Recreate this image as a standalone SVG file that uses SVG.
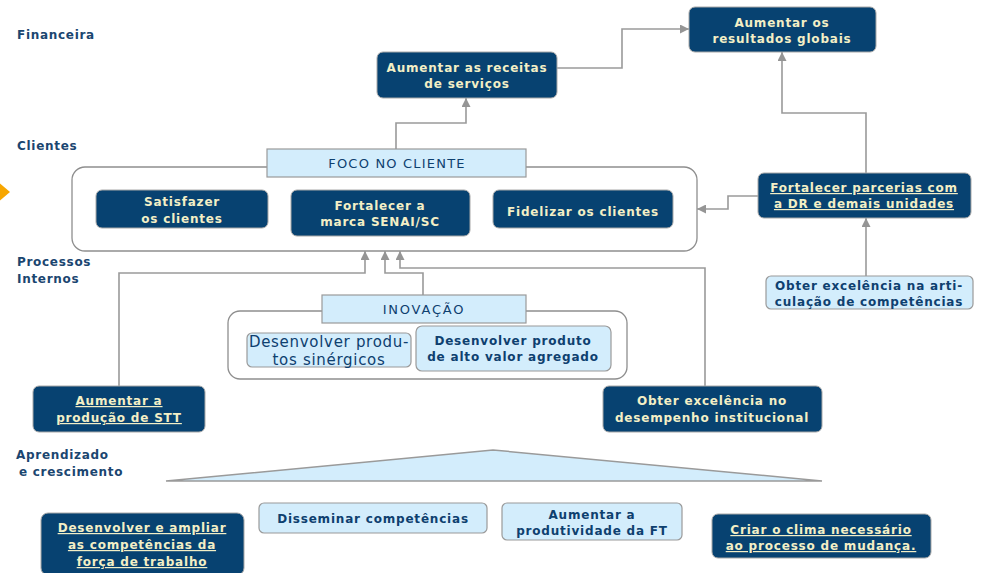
<svg xmlns="http://www.w3.org/2000/svg" width="986" height="573" viewBox="0 0 986 573">
<defs>
<marker id="ah" viewBox="0 0 10 10" refX="10" refY="5" markerWidth="9" markerHeight="9" markerUnits="userSpaceOnUse" orient="auto">
<path d="M0,0 L10,5 L0,10 z" fill="#959595"/>
</marker>
</defs>
<style>
.lbl{font-family:"DejaVu Sans",Verdana,sans-serif;font-size:12px;font-weight:bold;fill:#1b4670;letter-spacing:0.7px}
.dk{fill:#074271;stroke:#a8a8a8;stroke-width:1}
.lt{fill:#d3edfc;stroke:#9a9a9a;stroke-width:1.2}
.cont{fill:#ffffff;stroke:#8e8e8e;stroke-width:1.3}
.dt{font-family:"DejaVu Sans",Verdana,sans-serif;font-size:12px;font-weight:bold;fill:#f3efc6;text-anchor:middle;letter-spacing:0.8px}
.ltt{font-family:"DejaVu Sans",Verdana,sans-serif;font-size:12px;font-weight:bold;fill:#0e406f;text-anchor:middle;letter-spacing:0.8px}
.hd{font-family:"DejaVu Sans",Verdana,sans-serif;font-size:13px;fill:#0e406f;text-anchor:middle;letter-spacing:1.2px}
.big{font-family:"DejaVu Sans",Verdana,sans-serif;font-size:15px;fill:#0e406f;text-anchor:middle;letter-spacing:0.7px}
.u{text-decoration:underline}
.con{fill:none;stroke:#9a9a9a;stroke-width:1.6}
</style>
<rect width="986" height="573" fill="#ffffff"/>
<polygon points="-4,180 10,192 -4,204" fill="#f7a600"/>
<g id="labels">
<text class="lbl" x="17" y="39">Financeira</text>
<text class="lbl" x="17" y="150">Clientes</text>
<text class="lbl" x="17" y="266">Processos</text>
<text class="lbl" x="17" y="283">Internos</text>
<text class="lbl" x="16" y="459">Aprendizado</text>
<text class="lbl" x="19" y="476">e crescimento</text>
</g>
<g id="container-clientes"><rect class="cont" x="72" y="167" width="625" height="84" rx="13"/></g>
<g id="container-inovacao"><rect class="cont" x="228" y="311" width="399" height="68" rx="12"/></g>
<g id="connectors">
<path class="con" d="M557,68 H622 V29 H689" marker-end="url(#ah)"/>
<path class="con" d="M396,149 V123 H466 V98" marker-end="url(#ah)"/>
<path class="con" d="M866,173 V113 H782 V52" marker-end="url(#ah)"/>
<path class="con" d="M758,196 H728 V209 H697" marker-end="url(#ah)"/>
<path class="con" d="M866,276 V218" marker-end="url(#ah)"/>
<path class="con" d="M119,386 V273 H365 V251" marker-end="url(#ah)"/>
<path class="con" d="M423,295 V273 H385 V251" marker-end="url(#ah)"/>
<path class="con" d="M705,386 V268 H400 V251" marker-end="url(#ah)"/>
</g>
<g id="receitas"><rect class="dk" x="377" y="52" width="180" height="46" rx="6"/>
<text class="dt" x="467" y="72">Aumentar as receitas</text><text class="dt" x="467" y="88">de  serviços</text></g>
<g id="globais"><rect class="dk" x="689" y="7" width="187" height="45" rx="6"/>
<text class="dt" x="782" y="27">Aumentar os</text><text class="dt" x="782" y="43">resultados globais</text></g>
<g id="foco"><rect class="lt" x="267" y="149" width="259" height="28"/>
<text class="hd" x="397" y="168">FOCO NO CLIENTE</text></g>
<g id="satisfazer"><rect class="dk" x="96" y="190" width="172" height="38" rx="6"/>
<text class="dt" x="182" y="206">Satisfazer</text><text class="dt" x="182" y="223">os clientes</text></g>
<g id="marca"><rect class="dk" x="291" y="190" width="179" height="46" rx="6"/>
<text class="dt" x="380" y="210">Fortalecer a</text><text class="dt" x="380" y="226">marca SENAI/SC</text></g>
<g id="fidelizar"><rect class="dk" x="493" y="190" width="180" height="38" rx="6"/>
<text class="dt" x="583" y="216">Fidelizar os clientes</text></g>
<g id="parcerias"><rect class="dk" x="758" y="173" width="213" height="45" rx="6"/>
<text class="dt u" x="864" y="192">Fortalecer parcerias com</text><text class="dt u" x="864" y="208">a DR e demais unidades</text></g>
<g id="articulacao"><rect class="lt" x="766" y="276" width="207" height="33" rx="5"/>
<text class="ltt" x="869" y="290">Obter excelência na arti-</text><text class="ltt" x="869" y="306">culação de competências</text></g>
<g id="inovacao"><rect class="lt" x="322" y="295" width="204" height="28"/>
<text class="hd" x="424" y="314" style="letter-spacing:1.8px">INOVAÇÃO</text></g>
<g id="sinergicos"><rect class="lt" x="247" y="333" width="164" height="34" rx="5"/>
<text class="big" x="329" y="347">Desenvolver produ-</text><text class="big" x="329" y="365">tos sinérgicos</text></g>
<g id="alto-valor"><rect class="lt" x="416" y="326" width="195" height="45" rx="6"/>
<text class="ltt" x="513" y="345">Desenvolver produto</text><text class="ltt" x="513" y="361">de alto valor agregado</text></g>
<g id="stt"><rect class="dk" x="33" y="386" width="172" height="46" rx="6"/>
<text class="dt u" x="119" y="405">Aumentar a</text><text class="dt u" x="119" y="422">produção de STT</text></g>
<g id="desempenho"><rect class="dk" x="603" y="386" width="219" height="46" rx="6"/>
<text class="dt" x="712" y="405">Obter excelência no</text><text class="dt" x="712" y="422">desempenho institucional</text></g>
<g id="triangulo"><polygon points="166,481 493,450 822,481" fill="#d3edfc" stroke="#9a9a9a" stroke-width="1.5"/></g>
<g id="ampliar"><rect class="dk" x="41" y="513" width="203" height="62" rx="7"/>
<text class="dt u" x="142" y="532">Desenvolver e ampliar</text><text class="dt u" x="142" y="549">as competências da</text><text class="dt u" x="142" y="566">força de trabalho</text></g>
<g id="disseminar"><rect class="lt" x="259" y="503" width="228" height="30" rx="5"/>
<text class="ltt" x="373" y="523">Disseminar competências</text></g>
<g id="produtividade"><rect class="lt" x="502" y="503" width="180" height="37" rx="5"/>
<text class="ltt" x="592" y="519">Aumentar a</text><text class="ltt" x="592" y="535">produtividade da FT</text></g>
<g id="clima"><rect class="dk" x="712" y="514" width="219" height="44" rx="6"/>
<text class="dt u" x="821" y="534">Criar o clima necessário</text><text class="dt u" x="821" y="550">ao processo de mudança.</text></g>
</svg>
